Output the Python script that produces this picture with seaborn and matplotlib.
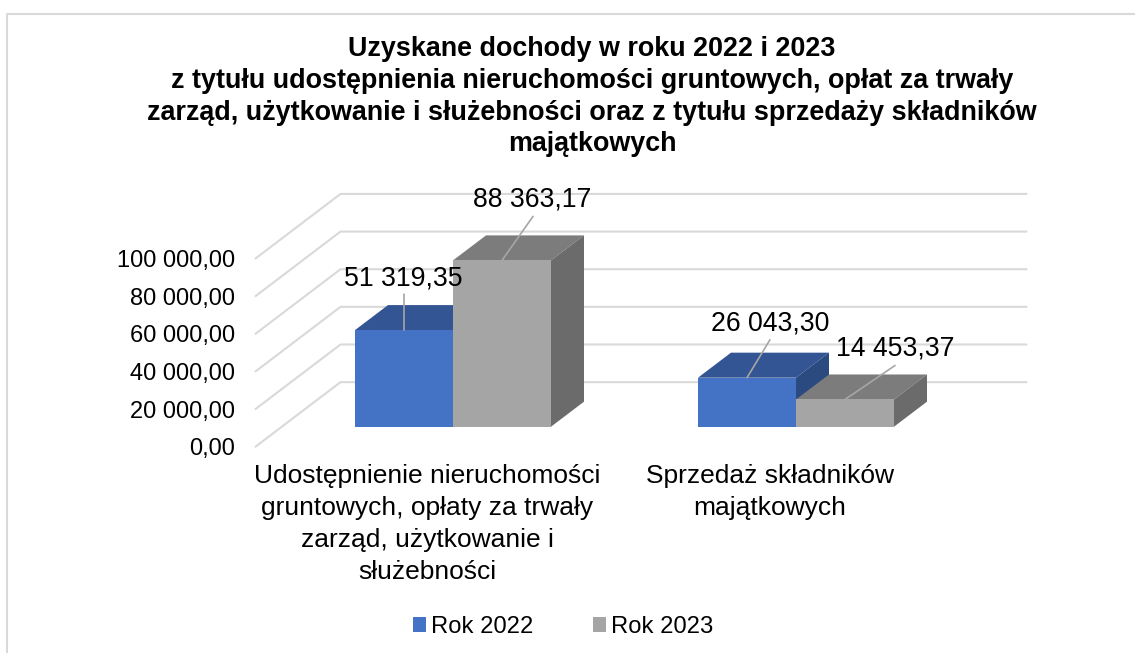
import pandas as pd
import matplotlib
matplotlib.use("Agg")
import matplotlib.pyplot as plt
import seaborn as sns
from matplotlib.lines import Line2D
from matplotlib.patches import Polygon

W, H = 1135, 653

categories = ["Udostępnienie nieruchomości\ngruntowych, opłaty za trwały\nzarząd, użytkowanie i\nsłużebności",
              "Sprzedaż składników\nmajątkowych"]
rok_2022 = [51319.35, 26043.30]
rok_2023 = [88363.17, 14453.37]
series_names = ["Rok 2022", "Rok 2023"]
yticks = [0, 20000, 40000, 60000, 80000, 100000]
ytick_labels = ["0,00", "20 000,00", "40 000,00", "60 000,00", "80 000,00", "100 000,00"]
value_labels = [["51 319,35", "26 043,30"], ["88 363,17", "14 453,37"]]
title = ("Uzyskane dochody w roku 2022 i 2023\n"
         "z tytułu udostępnienia nieruchomości gruntowych, opłat za trwały\n"
         "zarząd, użytkowanie i służebności oraz z tytułu sprzedaży składników\n"
         "majątkowych")

sns.set_theme(style="white")
plt.rcParams["font.family"] = ["Liberation Sans", "DejaVu Sans"]
plt.rcParams["text.color"] = "black"

df = pd.DataFrame({
    "kategoria": categories * 2,
    "rok": [series_names[0]] * 2 + [series_names[1]] * 2,
    "wartosc": rok_2022 + rok_2023,
})


def add_axes_px(fig, left, right, bottom, top):
    return fig.add_axes([left / W, 1 - bottom / H, (right - left) / W, (bottom - top) / H])


fig = plt.figure(figsize=(W / 100, H / 100), dpi=100, facecolor="white")

# outer frame, cut off at right and bottom
fig.add_artist(Line2D([7 / W, 7 / W, 1], [0, 1 - 14 / H, 1 - 14 / H], color="#d9d9d9", lw=1.5))

# front plane of the 3D box: ticks, category labels, grid
ax_wall = add_axes_px(fig, 255.5, 941.5, 446.7, 258.5)
ax_wall.set_xlim(-0.5, 1.5)
ax_wall.set_ylim(0, 100000)
ax_wall.patch.set_visible(False)
sns.despine(ax=ax_wall, left=True, bottom=True)

# box depth in data units
wall_dx = 85 / 343
wall_dy = 64.5 / 188 * 100000
for v in yticks:
    ax_wall.plot([-0.5, -0.5 + wall_dx, 1.5 + wall_dx], [v, v + wall_dy, v + wall_dy],
                 color="#d9d9d9", lw=1.5, clip_on=False, solid_joinstyle="miter", zorder=1)

ax_wall.set_yticks(yticks)
ax_wall.set_yticklabels(ytick_labels, fontsize=17)
ax_wall.tick_params(axis="y", length=0, pad=14.4, labelcolor="black")
ax_wall.set_xticks([0, 1])
ax_wall.set_xticklabels(categories, fontsize=19, linespacing=1.42)
ax_wall.tick_params(axis="x", length=0, pad=12.5, labelcolor="black")

# bars sit in the middle of the depth
ax = add_axes_px(fig, 281.5, 967.5, 426.7, 238.5)
ax.patch.set_visible(False)
sns.barplot(data=df, x="kategoria", y="wartosc", hue="rok", ax=ax,
            palette=["#4472C4", "#A5A5A5"], saturation=1, width=196 / 343, gap=0,
            legend=False, zorder=5, linewidth=0, edgecolor="none")
ax.set_xlim(-0.5, 1.5)
ax.set_ylim(0, 100000)
ax.set_xticks([])
ax.set_yticks([])
ax.set_xlabel("")
ax.set_ylabel("")
sns.despine(ax=ax, left=True, bottom=True)

bar_dx = 33 / 343
bar_dy = 25 / 188 * 100000
top_colors = ["#335593", "#7C7C7C"]
side_colors = ["#2B4A80", "#6B6B6B"]
# label centre and leader start, pixels from the top centre of each bar
label_offsets = [[(-1, 52), (23, 54)], [(30, 61), (50, 51)]]
leader_offsets = [[(0, 36), (23, 38)], [(31, 44), (50, 34)]]

for s, container in enumerate(ax.containers):
    for b, bar in enumerate(container):
        x0, x1 = bar.get_x(), bar.get_x() + bar.get_width()
        h = bar.get_height()
        ax.add_patch(Polygon([(x0, h), (x1, h), (x1 + bar_dx, h + bar_dy), (x0 + bar_dx, h + bar_dy)],
                             closed=True, fc=top_colors[s], ec="none", clip_on=False, zorder=2 + s))
        ax.add_patch(Polygon([(x1, 0), (x1, h), (x1 + bar_dx, h + bar_dy), (x1 + bar_dx, bar_dy)],
                             closed=True, fc=side_colors[s], ec="none", clip_on=False, zorder=2 + s))
        xc = (x0 + x1) / 2
        ax.annotate("", xy=(xc, h), xytext=leader_offsets[s][b], textcoords="offset pixels",
                    arrowprops=dict(arrowstyle="-", color="#A6A6A6", lw=1.2, shrinkA=0, shrinkB=0),
                    annotation_clip=False, zorder=8)
        ax.annotate(value_labels[s][b], xy=(xc, h), xytext=label_offsets[s][b],
                    textcoords="offset pixels", ha="center", va="center",
                    fontsize=19.2, annotation_clip=False, zorder=9)

fig.suptitle(title, x=592 / W, y=1 - 36 / H, ha="center", va="top",
             fontsize=19.4, fontweight="bold", linespacing=1.29)

handles = [plt.Rectangle((0, 0), 1, 1, fc=c, ec="none") for c in ["#4472C4", "#A5A5A5"]]
fig.legend(handles, series_names, loc="center", bbox_to_anchor=(563 / W, 1 - 627 / H), ncol=2,
           frameon=False, fontsize=17.1, handlelength=0.55, handleheight=0.55,
           handletextpad=0.2, columnspacing=2.5)

fig.savefig("out.png", dpi=100)
